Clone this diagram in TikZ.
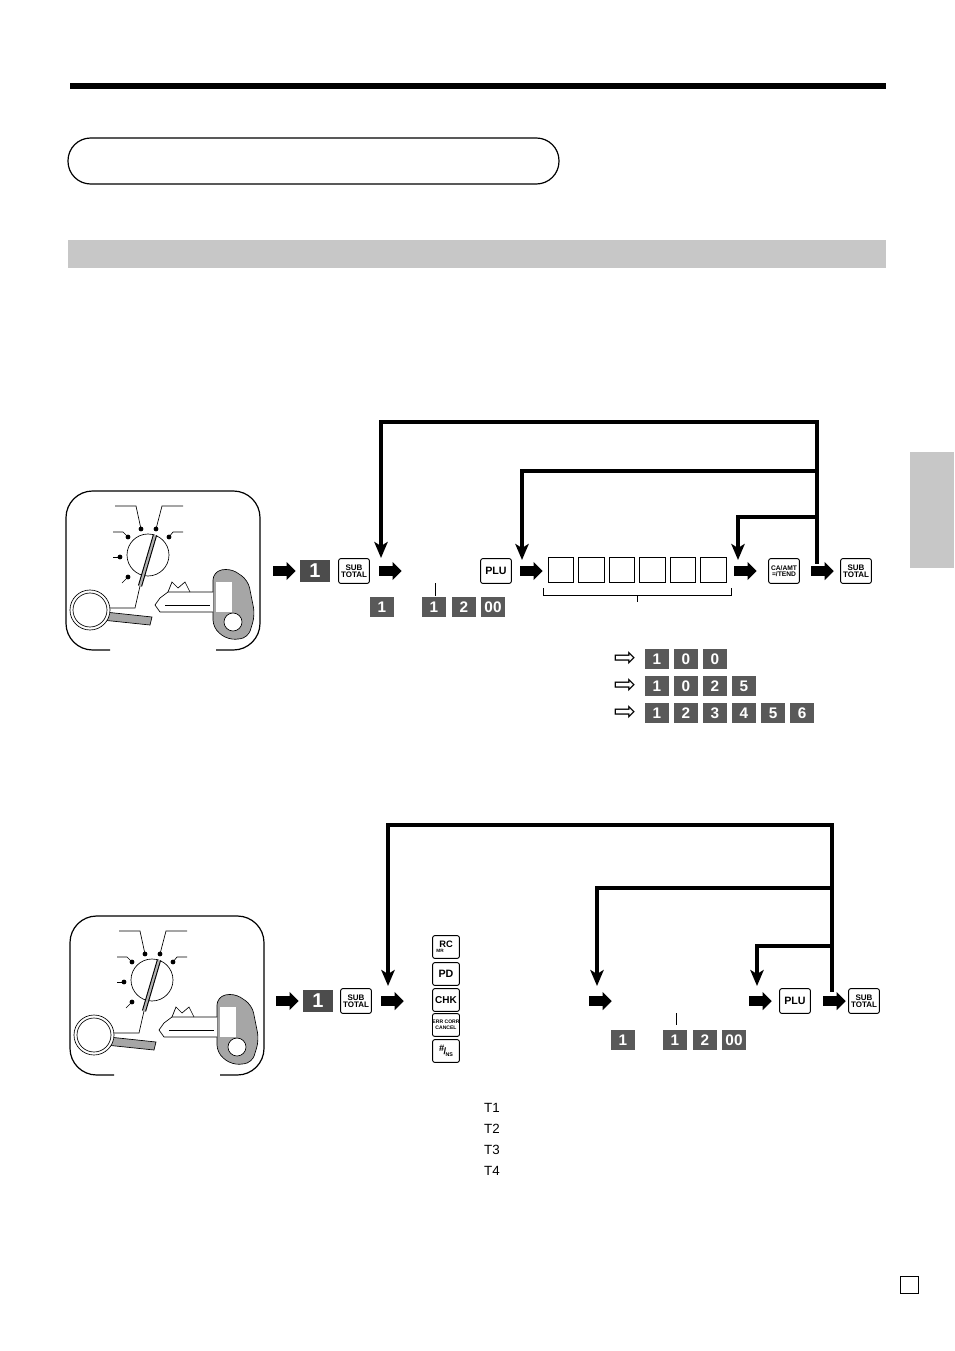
\documentclass[tikz,border=0pt]{standalone}
\usepackage{fontspec}
\setmainfont{Liberation Sans}
\newfontfamily\dejavu{DejaVu Sans}
\usetikzlibrary{shapes.arrows,arrows.meta}
\tikzset{
 fatarrow/.style={single arrow,fill=black,draw=none,minimum height=17pt,single arrow head extend=3.2pt,inner xsep=0pt,inner ysep=3.4pt,anchor=center},
 dkey/.style={fill=black!70,text=white,font=\bfseries\fontsize{15}{15}\selectfont,minimum width=23pt,minimum height=16.5pt,inner sep=0pt},
 skey/.style={fill=black!65,text=white,font=\bfseries\fontsize{11.5}{11.5}\selectfont,minimum width=18.5pt,minimum height=15pt,inner sep=0pt},
 wkey/.style={draw,rounded corners=1.5pt,line width=0.7pt,minimum width=23pt,minimum height=18.5pt,inner sep=0pt,font=\bfseries\fontsize{6}{6}\selectfont,align=center},
 cell/.style={draw,line width=0.6pt,minimum width=19pt,minimum height=19pt,inner sep=0pt},
 loopline/.style={line width=2.4pt,-{Stealth[width=10pt,length=12pt,inset=3pt]}},
 hollow/.style={font=\dejavu\fontsize{20}{20}\selectfont,inner sep=0pt}
}
\newcommand\modedial{%
 \draw[line width=0.5pt] (115,506)--(136,506)--(141,529);
 \draw[line width=0.5pt] (183,506)--(162,506)--(156,529);
 \draw[line width=0.5pt] (113,532)--(123,532)--(128,537);
 \draw[line width=0.5pt] (183,532)--(173,532)--(169,537);
 \draw[line width=0.5pt] (113,557)--(120,557);
 \draw[line width=0.5pt] (122,583)--(128,577);
 \foreach \p in {(141,529),(156,529),(128,537),(169,537),(120,557),(128,577)} \fill \p circle (2.4);
 \draw[line width=0.5pt] (148,555) circle (21);
 \draw[line width=0.5pt] (140,586)--(135,608)--(100,608);
 \draw[line width=3.2pt] (155,535)--(140,586);
 \draw[line width=1.6pt,black!30] (155,535)--(140,586);
 \draw[line width=0.5pt,fill=black!35,rounded corners=6pt] (213,572)--(230,568)--(248,580)--(255,615)--(248,638)--(228,640)--(213,628)--cycle;
 \fill[white] (216,582) rectangle (232,612);
 \draw[line width=0.5pt,fill=white] (233,622) circle (9);
 \draw[line width=0.5pt,fill=white] (213,592)--(168,592)--(160,598)--(155,605)--(160,612)--(213,612);
 \draw[line width=0.5pt] (168,592)--(172,582)--(178,588)--(185,582)--(190,592);
 \draw[line width=0.5pt] (165,605)--(210,605);
 \draw[line width=0.5pt,fill=black!35] (105,612)--(152,617)--(150,625)--(102,620)--cycle;
 \draw[line width=0.5pt,fill=white] (90,610) circle (20);
 \draw[line width=0.5pt] (90,610) circle (17);
}
\begin{document}
\begin{tikzpicture}[x=0.75pt,y=-0.75pt]
\useasboundingbox (0,0) rectangle (954,1351);
\fill[white] (0,0) rectangle (954,1351);
\draw[line width=4.5pt] (70,86)--(886,86);
\draw[line width=0.9pt,rounded corners=17pt] (68,138) rectangle (559,184);
\fill[black!22] (68,240) rectangle (886,268);
\fill[black!22] (910,452) rectangle (954,568);
\draw[line width=0.7pt] (900,1276) rectangle (918,1293);

% ---------- diagram 1
\draw[line width=0.9pt,rounded corners=20pt] (110,650)--(66,650)--(66,491)--(260,491)--(260,650)--(216,650);
\begin{scope}\modedial\end{scope}
\node[fatarrow] (a1) at (282,571) {};
\node[dkey] (k1) at (315,571) {1};
\node[wkey] (s1) at (354,571) {SUB\\[-1pt]TOTAL};
\node[fatarrow] (a2) at (388,571) {};
\node[wkey] (plu1) at (496,571) {\fontsize{8}{8}\selectfont PLU};
\node[fatarrow] (a3) at (529,571) {};
\foreach \i in {0,...,5} \node[cell] (c\i) at (561+\i*30.5,570) {};
\node[fatarrow] (a4) at (743,571) {};
\node[wkey] (ca) at (784,571) {\fontsize{5}{5}\selectfont CA/AMT\\[-1pt]\fontsize{5}{5}\selectfont =/TEND};
\node[fatarrow] (a5) at (820,571) {};
\node[wkey] (s2) at (856,571) {SUB\\[-1pt]TOTAL};
\draw[loopline] (a5.north) ++(-3,-2) |- (381,422) -- (381,558);
\draw[loopline] (817,471) -- (522,471) -- (522,560);
\draw[loopline] (817,517) -- (738,517) -- (738,560);
\node[skey] (b1) at (382,607) {1};
\draw[line width=0.5pt] (435,583)--(435,596);
\node[skey] (b2) at (434,607) {1};
\node[skey] (b3) at (464,607) {2};
\node[skey] (b4) at (493,607) {00};
\draw[line width=0.5pt] (543,588)--(543,595)--(731,595)--(731,588);
\draw[line width=0.5pt] (637,595)--(637,602);
\foreach \y/\ks in {659/{1,0,0},686/{1,0,2,5},713/{1,2,3,4,5,6}}{
 \node[hollow] at (625,\y) {⇨};
 \foreach \k [count=\n from 0] in \ks \node[skey] at (657+\n*29,\y) {\k};
}

% ---------- diagram 2
\draw[line width=0.9pt,rounded corners=20pt] (114,1075)--(70,1075)--(70,916)--(264,916)--(264,1075)--(220,1075);
\begin{scope}[shift={(4,425)}]\modedial\end{scope}
\node[fatarrow] (d1) at (285,1001) {};
\node[dkey] (e1) at (318,1001) {1};
\node[wkey] (f1) at (356,1001) {SUB\\[-1pt]TOTAL};
\node[fatarrow] (d2) at (390,1001) {};
\node[wkey,minimum width=20pt,minimum height=17pt] (rc) at (446,947) {\fontsize{7}{7}\selectfont RC\\[-2pt]\hspace*{-9pt}\fontsize{3.5}{3.5}\selectfont MR};
\node[wkey,minimum width=20pt,minimum height=17pt] (pd) at (446,974) {\fontsize{8}{8}\selectfont PD};
\node[wkey,minimum width=20pt,minimum height=17pt] (chk) at (446,1000) {\fontsize{7.5}{7.5}\selectfont CHK};
\node[wkey,minimum width=20pt,minimum height=17pt] (err) at (446,1025) {\fontsize{3.8}{3.8}\selectfont ERR CORR\\[-1.5pt]\fontsize{3.8}{3.8}\selectfont CANCEL};
\node[wkey,minimum width=20pt,minimum height=17pt,font=\bfseries] (ns) at (446,1051) {\fontsize{7}{7}\selectfont \raisebox{2pt}{\#}\kern-0.5pt/\kern-0.5pt\fontsize{4}{4}\selectfont\raisebox{-2pt}{NS}};
\node[fatarrow] (d3) at (598,1001) {};
\node[fatarrow] (d4) at (758,1001) {};
\node[wkey] (plu2) at (795,1001) {\fontsize{8}{8}\selectfont PLU};
\node[fatarrow] (d5) at (832,1001) {};
\node[wkey] (f2) at (864,1001) {SUB\\[-1pt]TOTAL};
\draw[loopline] (d5.north) ++(0,-4) |- (388,825) -- (388,986);
\draw[loopline] (832,888) -- (597,888) -- (597,986);
\draw[loopline] (832,946) -- (757,946) -- (757,986);
\node[skey] (g1) at (623,1040) {1};
\draw[line width=0.5pt] (676,1013)--(676,1025);
\node[skey] (g2) at (675,1040) {1};
\node[skey] (g3) at (705,1040) {2};
\node[skey] (g4) at (734,1040) {00};
\foreach \t/\y in {T1/1108,T2/1129,T3/1150,T4/1171}
 \node[font=\fontsize{10}{10}\selectfont] at (492,\y) {\t};
\end{tikzpicture}
\end{document}
